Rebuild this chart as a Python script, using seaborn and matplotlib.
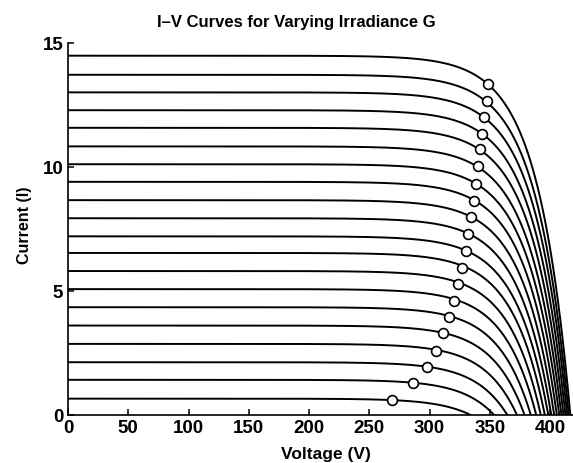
import numpy as np
import pandas as pd
import matplotlib
matplotlib.use("Agg")
import matplotlib.pyplot as plt
import seaborn as sns

# Irradiance levels (W/m^2), bottom curve to top curve
irradiance = [50, 100, 150, 200, 250, 300, 350, 400, 450, 500,
              550, 600, 650, 700, 750, 800, 850, 900, 950, 1000]
# Short-circuit current read at V = 0 (A)
isc = [0.66, 1.42, 2.13, 2.87, 3.61, 4.35, 5.08, 5.81, 6.54, 7.21,
       7.94, 8.67, 9.41, 10.12, 10.84, 11.59, 12.30, 13.02, 13.73, 14.50]
# Open-circuit voltage read where each curve meets I = 0 (V)
voc = [334.0, 353.5, 364.5, 372.5, 378.8, 384.0, 388.5, 392.3, 395.6, 398.5,
       401.0, 403.4, 405.6, 407.6, 409.4, 411.1, 412.7, 414.2, 415.5, 416.8]
# Marked maximum-power points (V, A)
mpp_v = [268.6, 286.6, 297.9, 305.4, 311.0, 316.2, 320.3, 323.9, 327.0, 330.1,
         332.2, 334.3, 337.2, 338.6, 340.5, 342.2, 343.6, 345.2, 347.5, 348.3]
mpp_i = [0.61, 1.28, 1.95, 2.60, 3.30, 3.95, 4.62, 5.30, 5.94, 6.62,
         7.32, 7.99, 8.65, 9.34, 10.04, 10.72, 11.35, 12.01, 12.68, 13.36]
# Diode shape constant (V) of the curves' knee
diode_a = 27.0

rows = []
for g, i0, v0 in zip(irradiance, isc, voc):
    v = np.linspace(0, v0, 400)
    cur = i0 * (1 - (np.exp(v / diode_a) - 1) / (np.exp(v0 / diode_a) - 1))
    for vv, ii in zip(v, cur):
        rows.append((g, vv, ii))
curves = pd.DataFrame(rows, columns=["G", "V", "I"])
mpp = pd.DataFrame({"G": irradiance, "V": mpp_v, "I": mpp_i})

sns.set_style("ticks")
plt.rcParams["font.family"] = ["Liberation Sans", "DejaVu Sans"]
plt.rcParams["text.color"] = "black"
plt.rcParams["axes.labelcolor"] = "black"

fig = plt.figure(figsize=(5.73, 4.63), dpi=100)
ax = fig.add_axes([68 / 573, 1 - 415 / 463, 1 - 68 / 573, (415 - 43.3) / 463])

sns.lineplot(data=curves, x="V", y="I", hue="G", palette=["black"] * len(irradiance),
             estimator=None, sort=False, legend=False, linewidth=1.4, ax=ax)
sns.scatterplot(data=mpp, x="V", y="I", color="white", edgecolor="black",
                linewidth=1.2, s=50, legend=False, ax=ax, zorder=5)

ax.set_xlim(0, 419)
ax.set_ylim(0, 15)
ax.set_xticks(range(0, 401, 50))
ax.set_yticks([0, 5, 10, 15])
ax.tick_params(direction="in", length=4, width=1.1, labelsize=13.5, colors="black", pad=3.5)
for lab in ax.get_xticklabels() + ax.get_yticklabels():
    lab.set_fontweight("bold")
for s in ["top", "right"]:
    ax.spines[s].set_visible(False)
for s in ["left", "bottom"]:
    ax.spines[s].set_linewidth(1.2)
    ax.spines[s].set_color("black")

ax.set_xlabel("Voltage (V)", fontsize=12.5, fontweight="bold")
ax.xaxis.set_label_coords((326 - 68) / 505, -32 / 371.7)
ax.set_ylabel("Current (I)", fontsize=11.5, fontweight="bold")
ax.yaxis.set_label_coords((32 - 68) / 505, (415 - 225) / 371.7)
ax.set_title("I\u2013V Curves for Varying Irradiance G", fontsize=12, fontweight="bold",
             x=(296 - 68) / 505, pad=12)

fig.savefig("out.png", dpi=100)
